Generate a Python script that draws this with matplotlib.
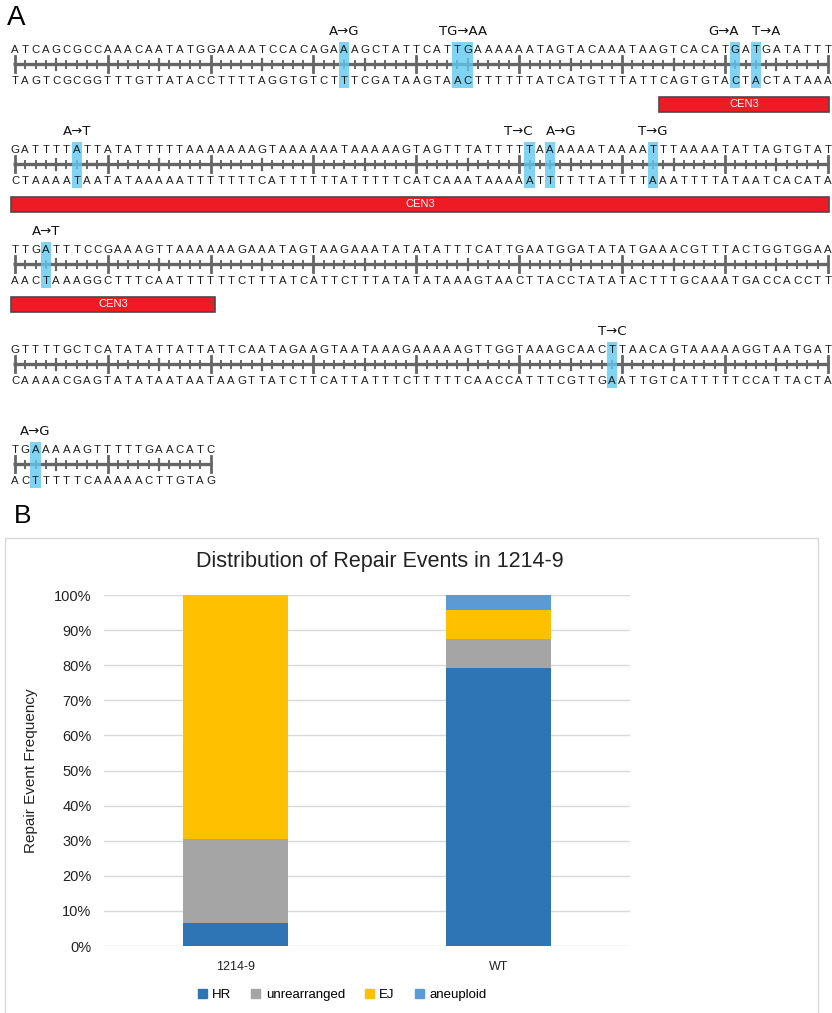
import matplotlib
matplotlib.use("Agg")
import matplotlib.pyplot as plt
from matplotlib.patches import Rectangle

plt.rcParams['font.family'] = ['Liberation Sans', 'DejaVu Sans']

# ---- panel A: sequence rows (top strand, 5' -> 3') ----
top_strands = [
    "ATCAGCGCCAAACAATATGGAAAATCCACAGAAAGCTATTCATTGAAAAAATAGTACAAATAAGTCACATGATGATATTT",
    "GATTTTATTATATTTTTAAAAAAAGTAAAAAATAAAAAGTAGTTTATTTTTAAAAAATAAAATTTAAAATATTAGTGTAT",
    "TTGATTTCCGAAAGTTAAAAAAGAAATAGTAAGAAATATATATTTCATTGAATGGATATATGAAACGTTTACTGGTGGAA",
    "GTTTTGCTCATATATTATTATTCAATAGAAGTAATAAAGAAAAAGTTGGTAAAGCAACTTAACAGTAAAAAGGTAATGAT",
    "TGAAAAAGTTTTTGAACATC",
]
# (row, first base index, number of bases, label)
mutations = [
    (0, 32, 1, "A→G"), (0, 43, 2, "TG→AA"), (0, 70, 1, "G→A"), (0, 72, 1, "T→A"),
    (1, 6, 1, "A→T"), (1, 50, 1, "T→C"), (1, 52, 1, "A→G"), (1, 62, 1, "T→G"),
    (2, 3, 1, "A→T"),
    (3, 58, 1, "T→C"),
    (4, 2, 1, "A→G"),
]
# CEN3 feature: (row, first base index, last base index)
cen3 = [(0, 63, 79), (1, 0, 79), (2, 0, 19)]

# ---- panel B: repair event distribution (% of events) ----
groups = ["1214-9", "WT"]
hr = [6.5, 79.2]
unrearranged = [23.9, 8.4]
ej = [69.6, 8.2]
aneuploid = [0.0, 4.2]

complement = {"A": "T", "T": "A", "G": "C", "C": "G"}

# neighbouring labels get pushed apart so they don't collide
label_nudge = {(0, 70): -12, (0, 72): 10, (1, 50): -11, (1, 52): 11}

W, H = 832, 1013
fig = plt.figure(figsize=(W / 100, H / 100), dpi=100)
ax0 = fig.add_axes([0, 0, 1, 1], zorder=0)
ax0.set_xlim(0, W)
ax0.set_ylim(H, 0)
ax0.axis("off")

x0, dx = 15, 10.29
row_gap = 100
line_col = "#666666"
txt_col = "#1c1c1c"


def bx(i):
    return x0 + i * dx


for r, seq in enumerate(top_strands):
    yt = 50 + r * row_gap
    yl = yt + 14
    yb = yt + 31
    n = len(seq)
    # ruler
    ax0.plot([bx(0) - 2, bx(n - 1) + 1], [yl, yl], color=line_col, lw=2.4,
             solid_capstyle="butt", zorder=1)
    for i in range(n):
        if i == 0 or i % 10 == 9:
            h, lw = 8, 2.0
        elif i % 10 == 4:
            h, lw = 5.5, 1.6
        else:
            h, lw = 3.5, 1.4
        ax0.plot([bx(i), bx(i)], [yl - h, yl + h], color=line_col, lw=lw, zorder=1)
    for i, b in enumerate(seq):
        ax0.text(bx(i), yt, b, ha="center", va="center", fontsize=8.2,
                 color=txt_col, zorder=4)
        ax0.text(bx(i), yb, complement[b], ha="center", va="center", fontsize=8.2,
                 color=txt_col, zorder=4)

for r, start, length, label in mutations:
    yt = 50 + r * row_gap
    left = bx(start) - dx / 2
    ax0.add_patch(Rectangle((left, yt - 8), dx * length, 46, facecolor="#62c9f0",
                            alpha=0.8, edgecolor="none", zorder=2))
    xc = left + dx * length / 2 + label_nudge.get((r, start), 0)
    ax0.text(xc, yt - 19, label, ha="center", va="center", fontsize=9.5,
             family=["DejaVu Sans"], color="#111111", zorder=4)

for r, first, last in cen3:
    yc = 50 + r * row_gap + 54
    left = bx(first) - 0.4 * dx
    right = min(bx(last) + 0.45 * dx, 829)
    ax0.add_patch(Rectangle((left, yc - 7.5), right - left, 15, facecolor="#ed1c24",
                            edgecolor="#4a4a4a", lw=1.2, zorder=2))
    ax0.text((left + right) / 2, yc, "CEN3", ha="center", va="center",
             fontsize=8, color="white", zorder=4)

ax0.text(16, 18, "A", ha="center", va="center", fontsize=20)
ax0.text(23, 516, "B", ha="center", va="center", fontsize=19)

# chart frame
ax0.add_patch(Rectangle((5, 537.5), 813, 520, facecolor="none",
                        edgecolor="#d9d9d9", lw=1.0, zorder=1))

# ---- stacked bar chart ----
ax = fig.add_axes([104 / W, 67 / H, 526 / W, 351 / H], zorder=2)
ax.patch.set_alpha(0)
xs = range(len(groups))
series = [("HR", hr, "#2e75b6"), ("unrearranged", unrearranged, "#a5a5a5"),
          ("EJ", ej, "#ffc000"), ("aneuploid", aneuploid, "#5b9bd5")]
bottom = [0.0] * len(groups)
for name, vals, col in series:
    ax.bar(xs, vals, width=0.4, bottom=bottom, color=col, label=name, zorder=3)
    bottom = [b + v for b, v in zip(bottom, vals)]

ax.set_xlim(-0.5, 1.5)
ax.set_ylim(0, 100)
ax.set_yticks(range(0, 101, 10))
ax.set_yticklabels([f"{v}%" for v in range(0, 101, 10)], fontsize=10.5, color="#222222")
ax.set_xticks(list(xs))
ax.set_xticklabels(groups, fontsize=9, color="#222222")
ax.tick_params(axis="y", length=0, pad=9)
ax.tick_params(axis="x", length=0, pad=11)
for s in ax.spines.values():
    s.set_visible(False)
ax.yaxis.grid(True, color="#d9d9d9", lw=1.0, zorder=0)
ax.set_ylabel("Repair Event Frequency", fontsize=11, color="#222222")
ax.yaxis.set_label_coords((38 - 104) / 526, 0.5)

fig.text(380 / W, 1 - 562 / H, "Distribution of Repair Events in 1214-9",
         ha="center", va="center", fontsize=15.5, color="#222222")

handles = [Rectangle((0, 0), 1, 1, color=c) for _, _, c in series]
fig.legend(handles, [n for n, _, _ in series], loc="center",
           bbox_to_anchor=(342 / W, 1 - 995 / H), ncol=4, frameon=False,
           fontsize=9.5, handlelength=0.7, handleheight=0.7, handletextpad=0.4,
           columnspacing=1.5)

fig.savefig("out.png", dpi=100)
